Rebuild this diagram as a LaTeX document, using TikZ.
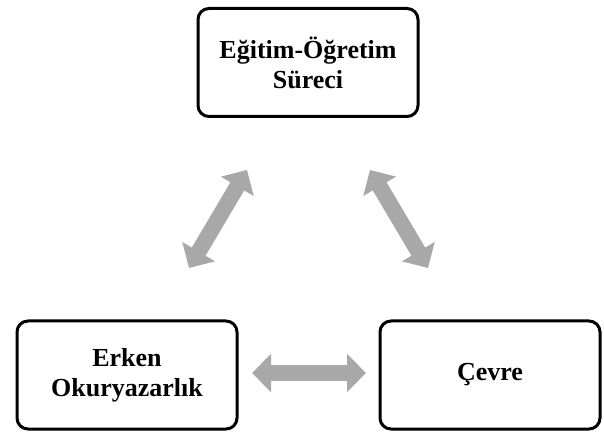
\documentclass[tikz,border=0pt]{standalone}
\usepackage{fontspec}
\setmainfont{Liberation Serif}
\usetikzlibrary{arrows.meta}
\definecolor{arrowgray}{RGB}{168,168,168}
\tikzset{
  box/.style={draw=black, line width=3pt, rounded corners=11pt, fill=white,
    minimum width=220pt, minimum height=108pt, align=center,
    font=\fontsize{26}{30}\selectfont\bfseries, inner sep=0pt},
  bigarrow/.style={draw=arrowgray, line width=16pt,
    {Triangle[length=19pt,width=37pt,fill=arrowgray]}-{Triangle[length=19pt,width=37pt,fill=arrowgray]}}
}
\begin{document}
\begin{tikzpicture}[x=1pt,y=1pt]
\useasboundingbox (0,0) rectangle (604,436);
\node[box] (top) at (308,373.5) {Eğitim-Öğretim\\Süreci};
\node[box] (left) at (127,61) {Erken\\Okuryazarlık};
\node[box] (right) at (490,61) {Çevre};
\coordinate (la) at (189,168);
\coordinate (lb) at (247,266);
\coordinate (ra) at (370,266);
\coordinate (rb) at (428,168);
\coordinate (ha) at (252,63);
\coordinate (hb) at (366,63);
\draw[bigarrow] (la) -- (lb);
\draw[bigarrow] (ra) -- (rb);
\draw[bigarrow] (ha) -- (hb);
\end{tikzpicture}
\end{document}
